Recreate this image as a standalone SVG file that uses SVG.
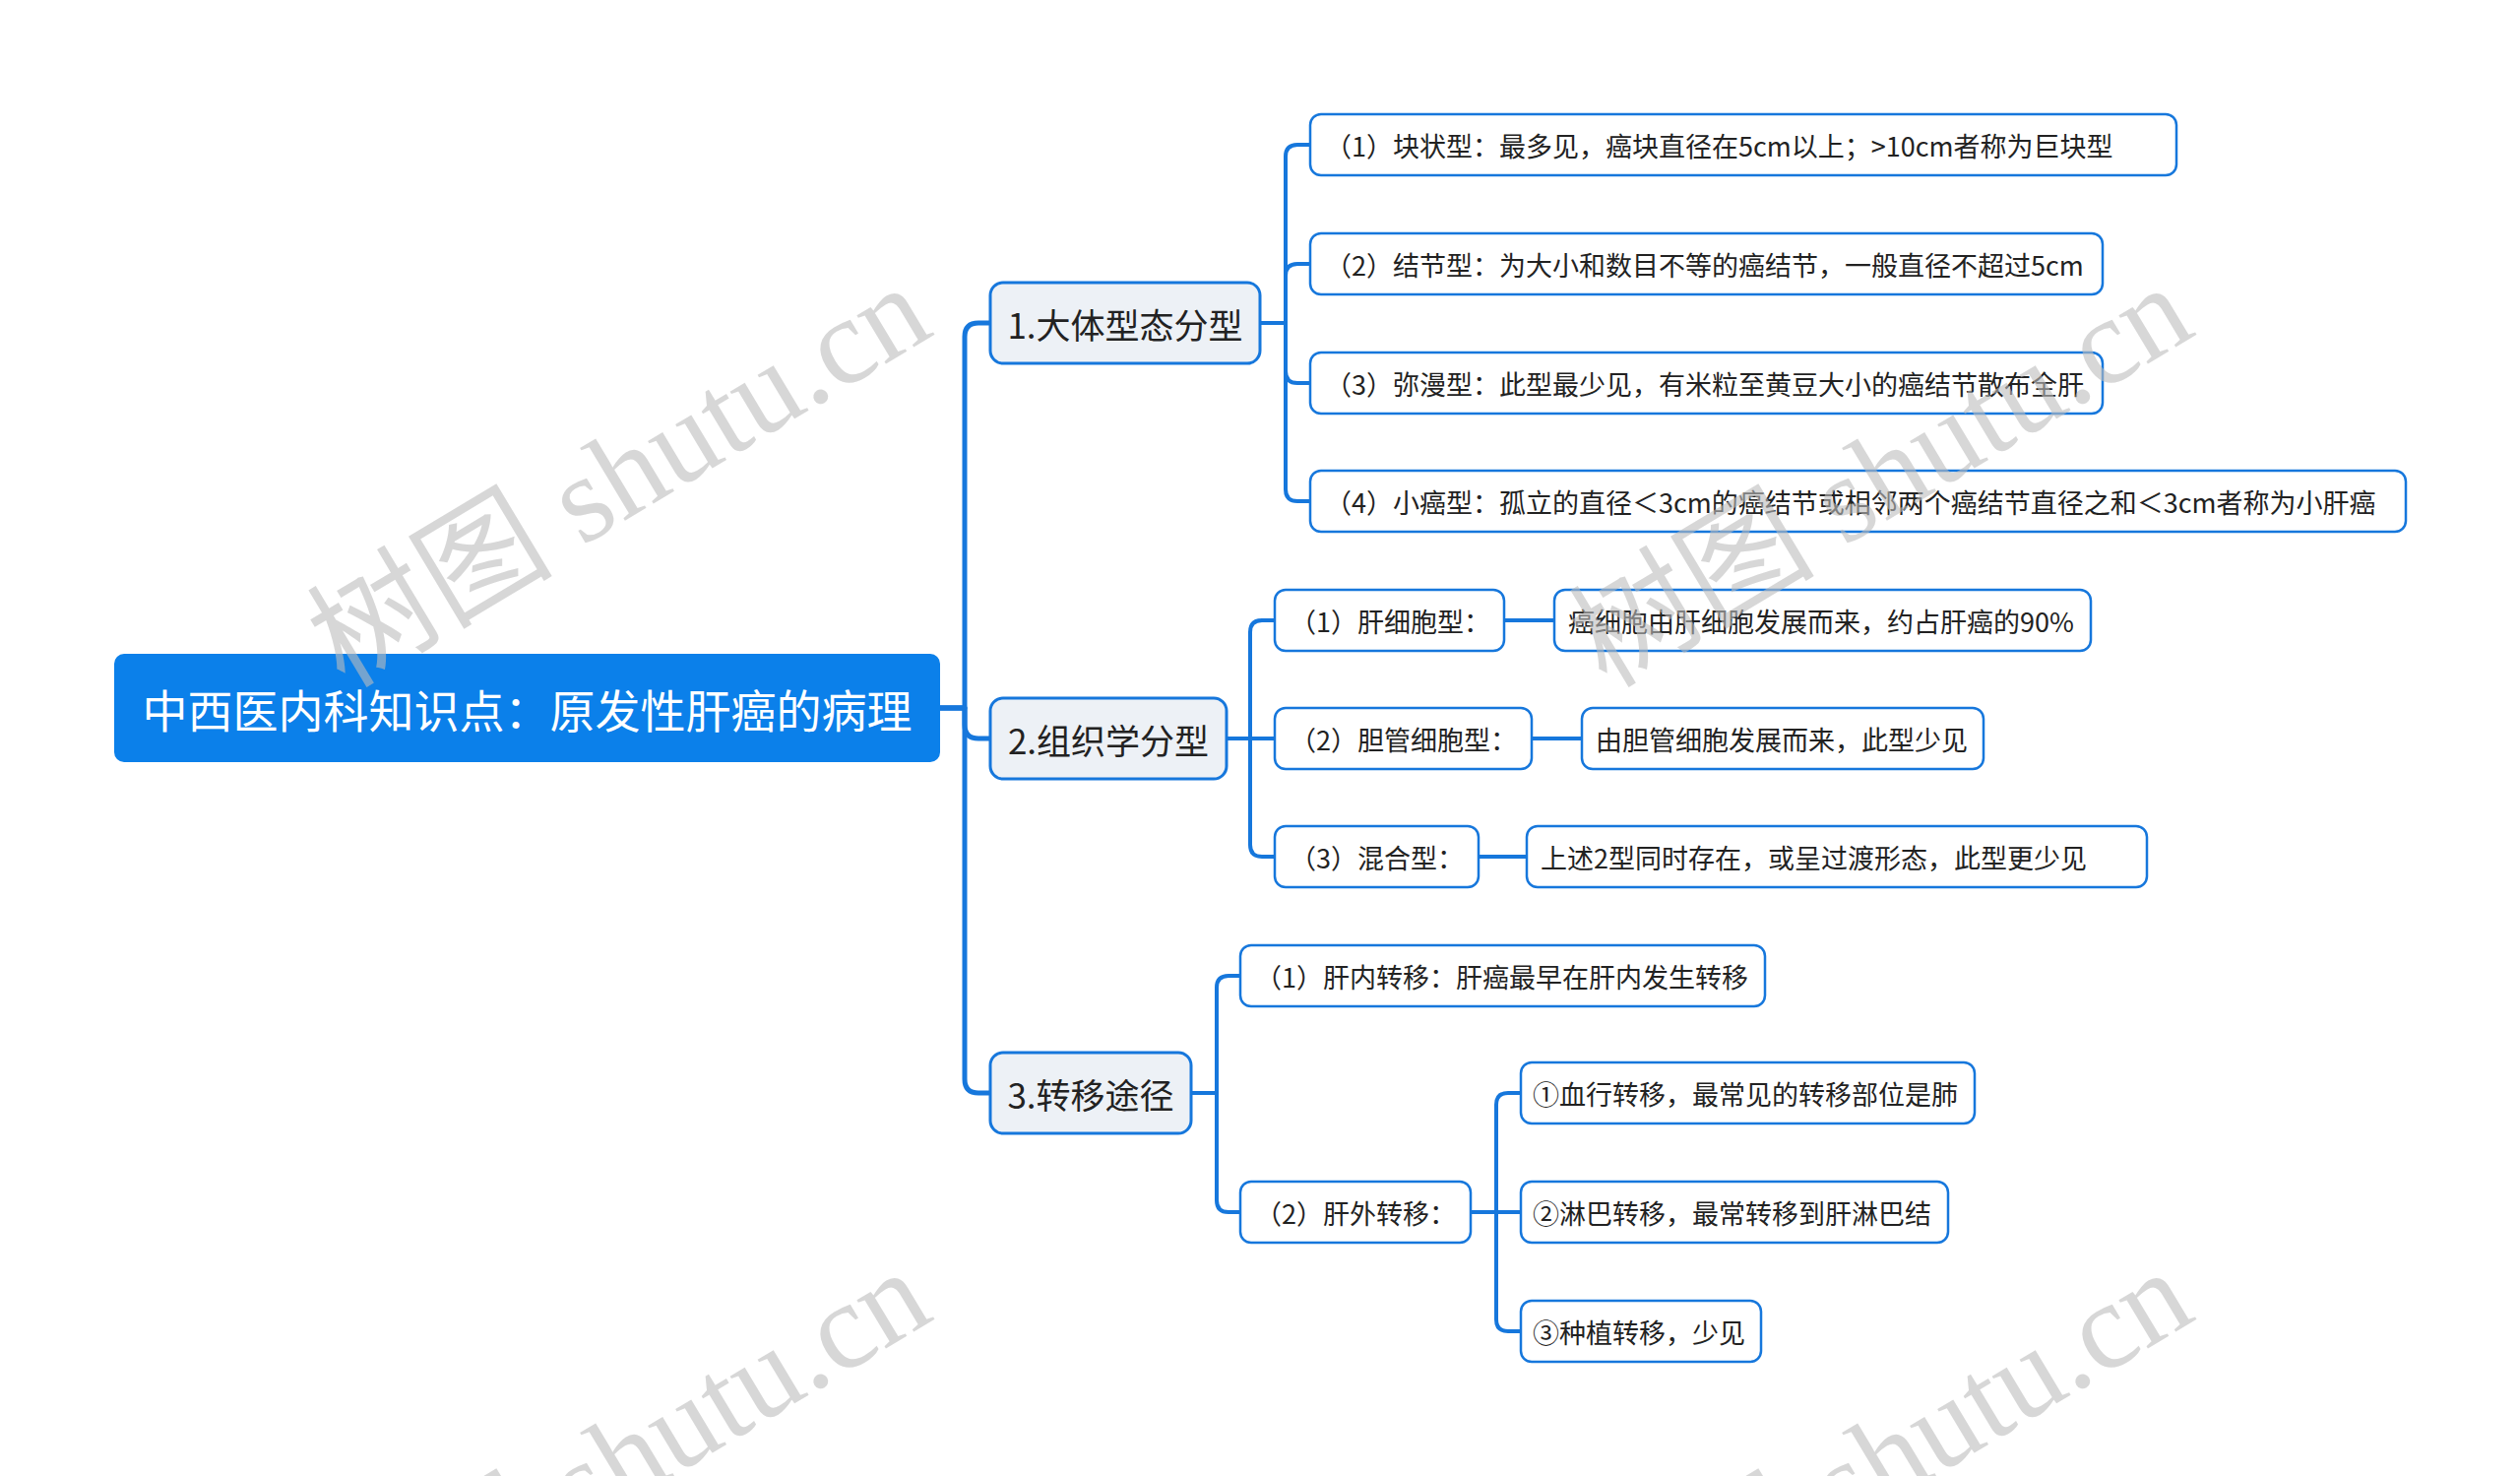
<svg xmlns="http://www.w3.org/2000/svg" width="2560" height="1499" viewBox="0 0 2560 1499">
<style>
.bg{fill:#ffffff}
.conn path{fill:none;stroke:#1677dc;stroke-width:4;stroke-linejoin:round}
.conn path.main{stroke-width:5}
.root rect{fill:#0b80ea}
.root text{fill:#ffffff;font-size:46px}
.l1 rect{fill:#edf1f6;stroke:#1677dc;stroke-width:3}
.l1 text{fill:#222222;font-size:35px}
.l2 rect{fill:#ffffff;stroke:#1677dc;stroke-width:2.5}
.l2 text{fill:#222222;font-size:27px}
text{font-family:"Noto Sans CJK SC","Noto Sans",sans-serif;dominant-baseline:central}
.wm text{font-family:"Liberation Serif","Noto Sans CJK SC",serif;font-size:125px;fill:#bdbdbd;fill-opacity:0.6;dominant-baseline:alphabetic}
</style>
<rect class="bg" x="0" y="0" width="2560" height="1499"/>
<g id="connectors" class="conn">
<path class="main" d="M955,719 H980 V342 Q980,328 994,328 H1006"/>
<path class="main" d="M955,719 H980 V736 Q980,750 994,750 H1006"/>
<path class="main" d="M955,719 H980 V1096 Q980,1110 994,1110 H1006"/>
<path d="M1280,328 H1306 V159 Q1306,147 1318,147 H1331"/>
<path d="M1280,328 H1306 V280 Q1306,268 1318,268 H1331"/>
<path d="M1280,328 H1306 V377 Q1306,389 1318,389 H1331"/>
<path d="M1280,328 H1306 V497 Q1306,509 1318,509 H1331"/>
<path d="M1246,750 H1270 V642 Q1270,630 1282,630 H1295"/>
<path d="M1246,750 H1295"/>
<path d="M1246,750 H1270 V858 Q1270,870 1282,870 H1295"/>
<path d="M1528,630 H1579"/>
<path d="M1556,750 H1607"/>
<path d="M1502,870 H1551"/>
<path d="M1210,1110 H1236 V1003 Q1236,991 1248,991 H1260"/>
<path d="M1210,1110 H1236 V1219 Q1236,1231 1248,1231 H1260"/>
<path d="M1494,1231 H1520 V1122 Q1520,1110 1532,1110 H1545"/>
<path d="M1494,1231 H1545"/>
<path d="M1494,1231 H1520 V1340 Q1520,1352 1532,1352 H1545"/>
</g>
<g id="root" class="root"><rect x="116" y="664" width="839" height="110" rx="10"/><text x="535.5" y="719" text-anchor="middle">中西医内科知识点：原发性肝癌的病理</text></g>
<g id="n1" class="l1"><rect x="1006" y="287" width="274" height="82" rx="13"/><text x="1143" y="328" text-anchor="middle">1.大体型态分型</text></g>
<g id="n2" class="l1"><rect x="1006" y="709" width="240" height="82" rx="13"/><text x="1126" y="750" text-anchor="middle">2.组织学分型</text></g>
<g id="n3" class="l1"><rect x="1006" y="1069" width="204" height="82" rx="13"/><text x="1108" y="1110" text-anchor="middle">3.转移途径</text></g>
<g id="n1c1" class="l2"><rect x="1331" y="116" width="880" height="62" rx="11"/><text x="1346" y="147">（1）块状型：最多见，癌块直径在5cm以上；&gt;10cm者称为巨块型</text></g>
<g id="n1c2" class="l2"><rect x="1331" y="237" width="805" height="62" rx="11"/><text x="1346" y="268">（2）结节型：为大小和数目不等的癌结节，一般直径不超过5cm</text></g>
<g id="n1c3" class="l2"><rect x="1331" y="358" width="805" height="62" rx="11"/><text x="1346" y="389">（3）弥漫型：此型最少见，有米粒至黄豆大小的癌结节散布全肝</text></g>
<g id="n1c4" class="l2"><rect x="1331" y="478" width="1113" height="62" rx="11"/><text x="1346" y="509">（4）小癌型：孤立的直径＜3cm的癌结节或相邻两个癌结节直径之和＜3cm者称为小肝癌</text></g>
<g id="n2c1" class="l2"><rect x="1295" y="599" width="233" height="62" rx="11"/><text x="1310" y="630">（1）肝细胞型：</text></g>
<g id="n2c1d" class="l2"><rect x="1579" y="599" width="545" height="62" rx="11"/><text x="1593" y="630">癌细胞由肝细胞发展而来，约占肝癌的90%</text></g>
<g id="n2c2" class="l2"><rect x="1295" y="719" width="261" height="62" rx="11"/><text x="1310" y="750">（2）胆管细胞型：</text></g>
<g id="n2c2d" class="l2"><rect x="1607" y="719" width="408" height="62" rx="11"/><text x="1621" y="750">由胆管细胞发展而来，此型少见</text></g>
<g id="n2c3" class="l2"><rect x="1295" y="839" width="207" height="62" rx="11"/><text x="1310" y="870">（3）混合型：</text></g>
<g id="n2c3d" class="l2"><rect x="1551" y="839" width="630" height="62" rx="11"/><text x="1565" y="870">上述2型同时存在，或呈过渡形态，此型更少见</text></g>
<g id="n3c1" class="l2"><rect x="1260" y="960" width="533" height="62" rx="11"/><text x="1275" y="991">（1）肝内转移：肝癌最早在肝内发生转移</text></g>
<g id="n3c2" class="l2"><rect x="1260" y="1200" width="234" height="62" rx="11"/><text x="1275" y="1231">（2）肝外转移：</text></g>
<g id="n3c2a" class="l2"><rect x="1545" y="1079" width="461" height="62" rx="11"/><text x="1557" y="1110">①血行转移，最常见的转移部位是肺</text></g>
<g id="n3c2b" class="l2"><rect x="1545" y="1200" width="434" height="62" rx="11"/><text x="1557" y="1231">②淋巴转移，最常转移到肝淋巴结</text></g>
<g id="n3c2c" class="l2"><rect x="1545" y="1321" width="244" height="62" rx="11"/><text x="1557" y="1352">③种植转移，少见</text></g>
<g id="watermark" class="wm">
<text transform="translate(350,700) rotate(-31)">树图 shutu.cn</text>
<text transform="translate(1632,700) rotate(-31)">树图 shutu.cn</text>
<text transform="translate(350,1700) rotate(-31)">树图 shutu.cn</text>
<text transform="translate(1632,1700) rotate(-31)">树图 shutu.cn</text>
</g>
</svg>
